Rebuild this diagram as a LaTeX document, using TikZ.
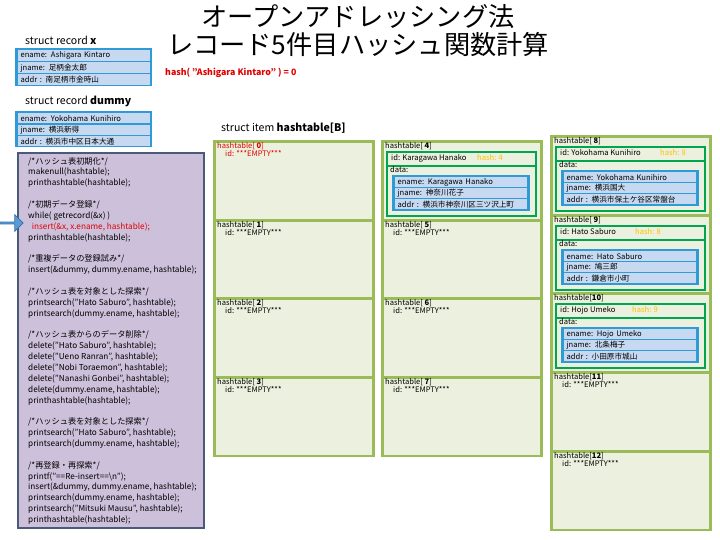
\documentclass[tikz,border=0pt]{standalone}
\usepackage{fontspec}
\setmainfont{Noto Sans CJK JP}
\usetikzlibrary{shapes.arrows, positioning}

\definecolor{cellgreen}{HTML}{9BBB59}
\definecolor{cellfill}{HTML}{EBF1DE}
\definecolor{idgreen}{HTML}{00A550}
\definecolor{recblue}{HTML}{2E9BD6}
\definecolor{rowblue}{HTML}{C6D9F1}
\definecolor{codefill}{HTML}{CCC0DA}
\definecolor{codeedge}{HTML}{4A5A78}
\definecolor{hashgold}{HTML}{FFC000}
\definecolor{hashred}{HTML}{E00000}
\definecolor{arrowblue}{HTML}{5B9BD5}
\definecolor{arrowedge}{HTML}{2F6FB0}

\begin{document}
\begin{tikzpicture}[x=0.03cm, y=-0.03cm,
    every node/.style={inner sep=0pt},
    cell/.style={rectangle, draw=cellgreen, line width=2.4pt, fill=cellfill, minimum width=4.77cm, minimum height=2.36cm, anchor=north west},
    celltext/.style={anchor=west, font=\fontsize{6.5}{7}\selectfont},
    recbox/.style={rectangle, fill=recblue, anchor=north west, minimum width=4.11cm},
    recrow/.style={rectangle, fill=rowblue, anchor=north west, minimum height=0.3cm, text width=3.8cm, inner xsep=2pt, align=left, font=\fontsize{6.5}{7}\selectfont},
    idbox/.style={rectangle, draw=idgreen, line width=2pt, fill=cellfill, anchor=north west, minimum width=4.47cm},
    heading/.style={anchor=west, font=\fontsize{9}{10}\selectfont},
]
\useasboundingbox (0,0) rectangle (720,540);

% Title
\node[font=\fontsize{22.4}{24}\selectfont, align=center] (title) at (358,31) {オープンアドレッシング法\\レコード5件目ハッシュ関数計算};
\node[anchor=west, text=hashred, font=\fontsize{7.5}{8}\selectfont\bfseries] (hashline) at (165,73) {hash( \symbol{34}Ashigara Kintaro\symbol{34} ) = 0};

% Record x
\node[heading] (recx) at (25,40) {struct record \textbf{x}};
\node[recbox, minimum height=1.14cm] (xbox) at (15,48) {};
\node[recrow, minimum height=0.33cm] (xename) at (18,50) {ename: Ashigara Kintaro};
\node[recrow, minimum height=0.33cm] (xjname) at (18,62) {jname: 足柄金太郎};
\node[recrow, minimum height=0.33cm] (xaddr) at (18,74) {addr\ : 南足柄市金時山};

% Record dummy
\node[heading] (recdummy) at (25,101) {struct record \textbf{dummy}};
\node[recbox, minimum height=1.08cm] (dbox) at (15,111) {};
\node[recrow] (dename) at (18,113) {ename: Yokohama Kunihiro};
\node[recrow] (djname) at (18,125) {jname: 横浜新得};
\node[recrow] (daddr) at (18,136) {addr\ : 横浜市中区日本大通};

% Main program
\node[rectangle, draw=codeedge, line width=1.6pt, fill=codefill, anchor=north west, minimum width=5.58cm, minimum height=11.25cm] (codebox) at (17,152) {};
\node[anchor=north west, align=left, font=\fontsize{7}{9.27}\selectfont] (code) at (28,157) {%
/*ハッシュ表初期化*/\\
makenull(hashtable);\\
printhashtable(hashtable);\\
\mbox{}\\
/*初期データ登録*/\\
while( getrecord(\&x) )\\
\hspace{3pt}\textcolor{hashred}{insert(\&x, x.ename, hashtable);}\\
printhashtable(hashtable);\\
\mbox{}\\
/*重複データの登録試み*/\\
insert(\&dummy, dummy.ename, hashtable);\\
\mbox{}\\
/*ハッシュ表を対象とした探索*/\\
printsearch(\symbol{34}Hato Saburo\symbol{34}, hashtable);\\
printsearch(dummy.ename, hashtable);\\
\mbox{}\\
/*ハッシュ表からのデータ削除*/\\
delete(\symbol{34}Hato Saburo\symbol{34}, hashtable);\\
delete(\symbol{34}Ueno Ranran\symbol{34}, hashtable);\\
delete(\symbol{34}Nobi Toraemon\symbol{34}, hashtable);\\
delete(\symbol{34}Nanashi Gonbei\symbol{34}, hashtable);\\
delete(dummy.ename, hashtable);\\
printhashtable(hashtable);\\
\mbox{}\\
/*ハッシュ表を対象とした探索*/\\
printsearch(\symbol{34}Hato Saburo\symbol{34}, hashtable);\\
printsearch(dummy.ename, hashtable);\\
\mbox{}\\
/*再登録・再探索*/\\
printf(\symbol{34}==Re-insert==\textbackslash n\symbol{34});\\
insert(\&dummy, dummy.ename, hashtable);\\
printsearch(dummy.ename, hashtable);\\
printsearch(\symbol{34}Mitsuki Mausu\symbol{34}, hashtable);\\
printhashtable(hashtable);};

\node[single arrow, fill=arrowblue, draw=arrowedge, line width=0.6pt, minimum height=0.7cm, minimum width=0.5cm, single arrow head extend=0.08cm] (ptr) at (11,223) {};

% Hash table
\node[heading] (tabhead) at (221,128) {struct item \textbf{hashtable[B]}};
\node[cell] (cell0) at (213,140) {};
\node[celltext, text=hashred] (lab0) at (217,146) {hashtable[ \textbf{0}]};
\node[celltext, text=hashred] (id0) at (225,154) {id: ***EMPTY***};
\foreach \idx/\L/\T in {1/213/219, 2/213/297, 3/213/376,
    4/381/140, 5/381/219, 6/381/297, 7/381/376,
    8/550/135, 9/550/214, 10/550/292, 11/550/371, 12/550/450}
{
    \node[cell] (cell\idx) at (\L,\T) {};
    \node[celltext] (lab\idx) at (\L+4,\T+6) {hashtable[\ifnum\idx<10 {\ }\fi\textbf{\idx}]};
}
\foreach \idx/\L/\T in {1/213/219, 2/213/297, 3/213/376,
    5/381/219, 6/381/297, 7/381/376, 11/550/371, 12/550/450}
    \node[celltext] (id\idx) at (\L+12,\T+14) {id: ***EMPTY***};

% Stored items
\foreach \nm/\L/\T/\hx/\hv/\en/\jn/\ad in {
    four/381/140/96/4/Karagawa Hanako/神奈川花子/横浜市神奈川区三ツ沢上町,
    eight/550/135/110/8/Yokohama Kunihiro/横浜国大/横浜市保土ケ谷区常盤台,
    nine/550/214/85/8/Hato Saburo/鳩三郎/鎌倉市小町,
    ten/550/292/82/9/Hojo Umeko/北条梅子/小田原市城山}
{
    \node[idbox, minimum height=1.92cm] (grn\nm) at (\L+5,\T+11) {};
    \node[idbox, minimum height=0.42cm] (idrow\nm) at (\L+5,\T+11) {};
    \node[celltext] (id\nm) at (\L+10,\T+18) {id: \en};
    \node[celltext, text=hashgold] (hash\nm) at (\L+\hx,\T+18) {hash: \hv};
    \node[celltext] (data\nm) at (\L+9,\T+30) {data:};
    \node[recbox, minimum width=4.14cm, minimum height=1.08cm] (blue\nm) at (\L+11,\T+35) {};
    \node[recrow] (ename\nm) at (\L+14,\T+37) {ename: \en};
    \node[recrow] (jname\nm) at (\L+14,\T+48) {jname: \jn};
    \node[recrow] (addr\nm) at (\L+14,\T+59) {addr\ : \ad};
}
\end{tikzpicture}
\end{document}
